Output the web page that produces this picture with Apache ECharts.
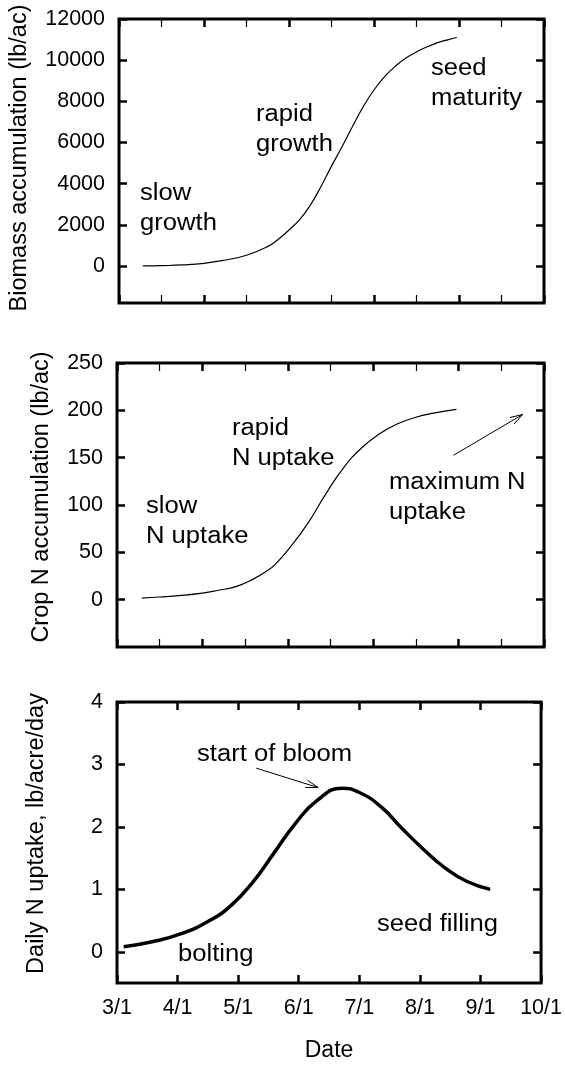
<!DOCTYPE html>
<html>
<head>
<meta charset="utf-8">
<script src="https://cdn.jsdelivr.net/npm/echarts@6/dist/echarts.min.js"></script>
<style>
html, body { margin: 0; padding: 0; background: #fff; }
#chart { width: 565px; height: 1067px; }
</style>
</head>
<body>
<div id="chart"></div>
<script>
// top two panels: x in tick units (10 ticks across the box)
var biomassX = [0.56, 1.0, 1.5, 2.0, 2.5, 3.0, 3.5, 3.75, 4.0, 4.25, 4.5, 4.75, 5.0, 5.25, 5.5, 5.75, 6.0, 6.25, 6.5, 6.75, 7.0, 7.25, 7.5, 7.75, 7.95];
var biomassY = [0, 15, 50, 130, 290, 520, 950, 1300, 1750, 2250, 2950, 3850, 4850, 5800, 6800, 7750, 8550, 9200, 9700, 10100, 10400, 10650, 10850, 11000, 11100];

var cropNX = [0.58, 1.0, 1.5, 2.0, 2.35, 2.8, 3.19, 3.5, 3.7, 4.04, 4.46, 4.88, 5.3, 5.72, 6.14, 6.56, 6.98, 7.41, 7.95];
var cropNY = [1.7, 2.8, 4.5, 7, 9.7, 14, 21.7, 30, 37, 54.5, 80, 111, 139, 160, 175, 185.5, 192.4, 197, 201];

// bottom panel: x in months after 3/1
var dailyX = [0.11, 0.58, 1.06, 1.53, 1.88, 2.23, 2.59, 2.94, 3.3, 3.71, 4.0, 4.36, 4.71, 5.07, 5.42, 5.77, 6.16];
var dailyY = [0.08, 0.16, 0.29, 0.5, 0.74, 1.1, 1.58, 2.05, 2.42, 2.62, 2.55, 2.32, 1.97, 1.63, 1.34, 1.13, 1.0];

var monthLabels = ['3/1', '4/1', '5/1', '6/1', '7/1', '8/1', '9/1', '10/1'];
var biomassTicks = [0, 2000, 4000, 6000, 8000, 10000, 12000];
var cropNTicks = [0, 50, 100, 150, 200, 250];
var dailyTicks = [0, 1, 2, 3, 4];

// arrows: [x tail, y tail, x head, y head]
var maxNArrow = [[7.88, 152.5, 9.5, 195.6]];
var bloomArrow = [[2.30, 2.94, 3.32, 2.63]];

function zip(a, b) {
	var out = [];
	for (var i = 0; i < a.length; i++) out.push([a[i], b[i]]);
	return out;
}

var FONT = 'Liberation Sans, Arial, sans-serif';

// top panels: bold tick every 2, thin one between
function xAxTop(grid, pos) {
	return {
		gridIndex: grid, type: 'value', min: 0, max: 10, interval: 2, position: pos,
		axisLine: { show: false, onZero: false },
		axisTick: { inside: true, length: 8, lineStyle: { color: '#000', width: 2.5 } },
		minorTick: { show: true, splitNumber: 2, length: 8, lineStyle: { color: '#000', width: 1.2 } },
		splitLine: { show: false },
		minorSplitLine: { show: false },
		axisLabel: { show: false }
	};
}

function xAxDate(pos) {
	var labels = pos === 'bottom';
	return {
		gridIndex: 2, type: 'value', min: 0, max: 7, interval: 1, position: pos,
		axisLine: { show: false, onZero: false },
		axisTick: { inside: true, length: 8, lineStyle: { color: '#000', width: 2.5 } },
		splitLine: { show: false },
		axisLabel: labels ? {
			show: true, margin: 14, fontSize: 21.5, color: '#000', fontFamily: FONT,
			showMinLabel: true, showMaxLabel: true,
			formatter: function (v) { return monthLabels[Math.round(v)]; }
		} : { show: false },
		name: labels ? 'Date' : '', nameLocation: 'middle', nameGap: 56,
		nameTextStyle: { fontSize: 23, color: '#000', fontFamily: FONT }
	};
}

function yAx(grid, min, max, ticks, pos, name, gap, shift) {
	return {
		gridIndex: grid, type: 'value', min: min, max: max, position: pos,
		axisLine: { show: false, onZero: false },
		axisTick: { inside: true, length: 8, lineStyle: { color: '#000', width: 2.5 }, customValues: ticks },
		splitLine: { show: false },
		axisLabel: pos === 'left' ? {
			show: true, margin: 14, fontSize: 21.5, color: '#000', fontFamily: FONT, customValues: ticks,
			formatter: function (v) { return String(v); }
		} : { show: false, customValues: ticks },
		name: name || '', nameLocation: 'middle', nameGap: gap || 0,
		nameTextStyle: { fontSize: 23.5, color: '#000', fontFamily: FONT, padding: [0, 0, 0, shift || 0] }
	};
}

function arrowItem(params, api) {
	var p0 = api.coord([api.value(0), api.value(1)]);
	var p1 = api.coord([api.value(2), api.value(3)]);
	var ang = Math.atan2(p1[1] - p0[1], p1[0] - p0[0]);
	var len = 13, spread = 0.3;
	var a1 = [p1[0] - len * Math.cos(ang - spread), p1[1] - len * Math.sin(ang - spread)];
	var a2 = [p1[0] - len * Math.cos(ang + spread), p1[1] - len * Math.sin(ang + spread)];
	return {
		type: 'group',
		children: [
			{ type: 'line', shape: { x1: p0[0], y1: p0[1], x2: p1[0], y2: p1[1] }, style: { stroke: '#000', lineWidth: 1 } },
			{ type: 'polyline', shape: { points: [a1, p1, a2] }, style: { stroke: '#000', fill: null, lineWidth: 1 } }
		]
	};
}

function note(x, y, text) {
	return {
		type: 'text', x: x, y: y, scaleX: 1.09,
		style: { text: text, fontSize: 23.5, lineHeight: 30, fill: '#000', fontFamily: FONT, verticalAlign: 'top' }
	};
}

var gridBase = { left: 117, width: 427, show: true, borderColor: '#000', borderWidth: 3, backgroundColor: 'transparent' };

var myChart = echarts.init(document.getElementById('chart'));
var option = {
	backgroundColor: '#fff',
	animation: false,
	grid: [
		Object.assign({ top: 19, height: 284 }, gridBase),
		Object.assign({ top: 363, height: 284 }, gridBase),
		Object.assign({ top: 702, height: 281 }, gridBase)
	],
	xAxis: [
		xAxTop(0, 'bottom'), xAxTop(0, 'top'),
		xAxTop(1, 'bottom'), xAxTop(1, 'top'),
		xAxDate('bottom'), xAxDate('top')
	],
	yAxis: [
		yAx(0, -1800, 12000, biomassTicks, 'left', 'Biomass accumulation (lb/ac)', 87, 6), yAx(0, -1800, 12000, biomassTicks, 'right'),
		yAx(1, -50, 250, cropNTicks, 'left', 'Crop N accumulation (lb/ac)', 63, 16), yAx(1, -50, 250, cropNTicks, 'right'),
		yAx(2, -0.5, 4, dailyTicks, 'left', 'Daily N uptake, lb/acre/day', 68, 18), yAx(2, -0.5, 4, dailyTicks, 'right')
	],
	series: [
		{ type: 'line', xAxisIndex: 0, yAxisIndex: 0, data: zip(biomassX, biomassY), smooth: true, showSymbol: false, lineStyle: { color: '#000', width: 1.2 } },
		{ type: 'line', xAxisIndex: 2, yAxisIndex: 2, data: zip(cropNX, cropNY), smooth: true, showSymbol: false, lineStyle: { color: '#000', width: 1.2 } },
		{ type: 'line', xAxisIndex: 4, yAxisIndex: 4, data: zip(dailyX, dailyY), smooth: true, showSymbol: false, lineStyle: { color: '#000', width: 3.5 } },
		{ type: 'custom', xAxisIndex: 2, yAxisIndex: 2, data: maxNArrow, renderItem: arrowItem, clip: false },
		{ type: 'custom', xAxisIndex: 4, yAxisIndex: 4, data: bloomArrow, renderItem: arrowItem, clip: false }
	],
	graphic: [
		note(140, 179, 'slow\ngrowth'),
		note(256, 100, 'rapid\ngrowth'),
		note(431, 54, 'seed\nmaturity'),
		note(232, 414, 'rapid\nN uptake'),
		note(146, 492, 'slow\nN uptake'),
		note(389, 468, 'maximum N\nuptake'),
		note(197, 740, 'start of bloom'),
		note(178, 940, 'bolting'),
		note(377, 910, 'seed filling')
	]
};
myChart.setOption(option);
</script>
</body>
</html>
